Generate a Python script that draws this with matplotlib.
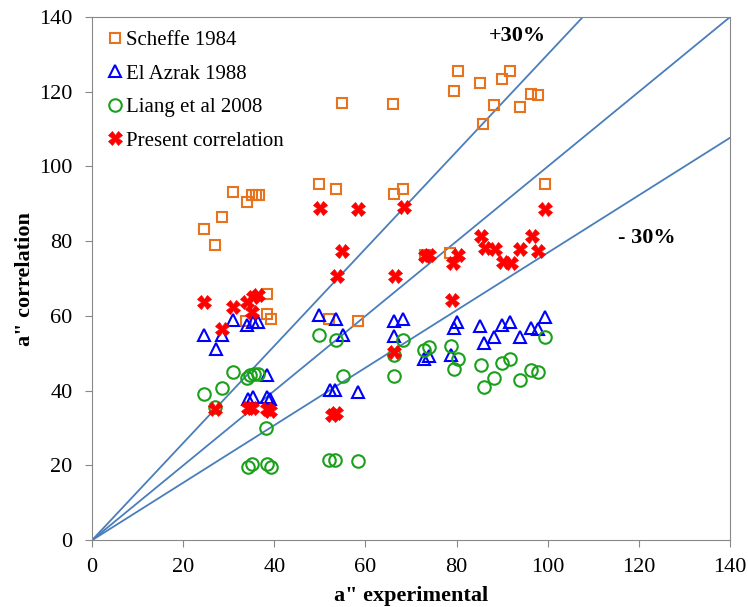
import matplotlib
matplotlib.use("Agg")
import matplotlib.pyplot as plt
import numpy as np

plt.rcParams['font.family'] = ['Liberation Serif', 'DejaVu Serif']

# Scheffe 1984
scheffe_x = [24.6, 26.9, 28.6, 30.9, 34.0, 35.0, 35.9, 36.7, 38.4, 38.5, 39.3, 33.7,
             49.9, 53.6, 54.9, 66.1, 66.3, 68.3, 52.0, 58.4, 73.1, 78.5, 80.2, 79.4,
             85.1, 90.0, 91.7, 88.1, 85.8, 96.4, 97.9, 94.0, 99.5]
scheffe_y = [83.2, 79.1, 86.4, 93.2, 90.6, 92.3, 92.3, 92.5, 66.0, 60.6, 59.1, 58.6,
             95.3, 94.1, 117.1, 116.8, 92.6, 93.9, 59.1, 58.6, 76.2, 76.9, 125.6, 120.2,
             122.4, 123.5, 125.6, 116.4, 111.5, 119.4, 119.1, 115.8, 95.3]

# El Azrak 1988
azrak_x = [24.6, 27.2, 28.6, 30.9, 33.9, 35.4, 36.5, 38.4, 34.3, 35.4, 38.4, 39.1,
           49.9, 53.6, 55.0, 52.2, 53.3, 58.4, 66.3, 68.3, 66.3, 72.9, 74.0, 78.7,
           80.0, 79.4, 85.1, 89.9, 91.8, 96.4, 97.8, 99.5, 86.0, 88.1, 94.0]
azrak_y = [54.9, 51.1, 54.9, 58.9, 57.5, 58.4, 58.4, 44.3, 37.9, 38.4, 38.4, 37.9,
           60.2, 59.3, 54.9, 40.3, 40.1, 39.7, 58.6, 59.1, 54.6, 48.6, 49.2, 49.5,
           58.4, 56.7, 57.3, 57.5, 58.3, 56.7, 56.4, 59.8, 52.8, 54.4, 54.3]

# Liang et al 2008
liang_x = [24.6, 27.0, 28.6, 30.9, 33.9, 34.7, 35.6, 36.5, 38.2, 34.2, 35.0, 38.5,
           39.2, 49.9, 53.6, 55.0, 52.0, 53.3, 58.4, 66.3, 66.3, 68.3, 72.9, 74.0,
           78.7, 80.2, 79.4, 85.3, 86.0, 88.1, 89.9, 91.8, 94.0, 96.4, 97.8, 99.5]
liang_y = [39.1, 35.7, 40.6, 45.1, 43.3, 44.2, 44.6, 44.4, 30.1, 19.5, 20.3, 20.3,
           19.6, 54.9, 53.7, 43.9, 21.4, 21.4, 21.2, 43.9, 49.5, 53.5, 50.9, 51.7,
           51.9, 48.6, 45.7, 46.8, 41.0, 43.3, 47.3, 48.6, 43.0, 45.5, 45.1, 54.4]

# Present correlation
present_x = [24.6, 27.0, 28.6, 30.9, 33.9, 35.4, 36.5, 35.2, 34.3, 35.2, 38.5, 39.1,
             50.0, 58.4, 68.4, 54.8, 53.8, 52.6, 53.6, 66.5, 66.3, 73.1, 73.9, 80.2,
             79.2, 78.9, 85.3, 96.6, 86.2, 88.4, 94.0, 97.9, 90.1, 92.0, 99.5]
present_y = [63.8, 35.2, 56.4, 62.5, 63.8, 65.1, 65.6, 61.1, 35.5, 35.3, 35.0, 34.6,
             88.8, 88.5, 89.2, 77.4, 70.6, 33.5, 34.0, 70.6, 50.4, 76.0, 76.3, 76.3,
             74.1, 64.4, 81.4, 81.4, 78.1, 77.8, 77.8, 77.4, 74.5, 74.2, 88.6]

bound_factors = [1.3, 1.0, 1 / 1.3]

fig = plt.figure(figsize=(7.48, 6.07), dpi=100)
ax = fig.add_axes([0.123, 0.110, 0.853, 0.862])

xs = np.array([0, 140])
for f in bound_factors:
    ax.plot(xs, f * xs, color='#4A7EBB', lw=1.3, zorder=1)

ax.plot(scheffe_x, scheffe_y, 's', ms=7.5, mfc='none', mec='#E8731E', mew=1.5,
        label='Scheffe 1984', zorder=3)
ax.plot(azrak_x, azrak_y, '^', ms=9, mfc='none', mec='#0000FF', mew=1.5,
        label='El Azrak 1988', zorder=3)
ax.plot(liang_x, liang_y, 'o', ms=9, mfc='none', mec='#1AA01A', mew=1.5,
        label='Liang et al 2008', zorder=3)
ax.plot(present_x, present_y, 'X', ms=10, mfc='#FF0000', mec='#FF0000', mew=0.5,
        label='Present correlation', zorder=4)

ax.set_xlim(0, 140)
ax.set_ylim(0, 140)
ax.set_xticks(range(0, 141, 20))
ax.set_yticks(range(0, 141, 20))
ax.tick_params(direction='out', length=5, color='#888888', labelsize=16)
ax.tick_params(axis='x', pad=8)
ax.tick_params(axis='y', pad=9)
for s in ax.spines.values():
    s.set_color('#888888')

ax.set_xlabel('a" experimental', fontsize=16, fontweight='bold', labelpad=6)
ax.set_ylabel('a" correlation', fontsize=16, fontweight='bold', labelpad=3)

ax.text(87, 135, '+30%', fontsize=16, fontweight='bold', ha='left', va='center')
ax.text(115.5, 81, '- 30%', fontsize=16, fontweight='bold', ha='left', va='center')

ax.legend(loc='upper left', frameon=False, fontsize=15, handletextpad=0.05,
          borderaxespad=0.25, labelspacing=0.67, handlelength=0.92,
          bbox_to_anchor=(0.0, 1.0))

fig.savefig('out.png', dpi=100)
